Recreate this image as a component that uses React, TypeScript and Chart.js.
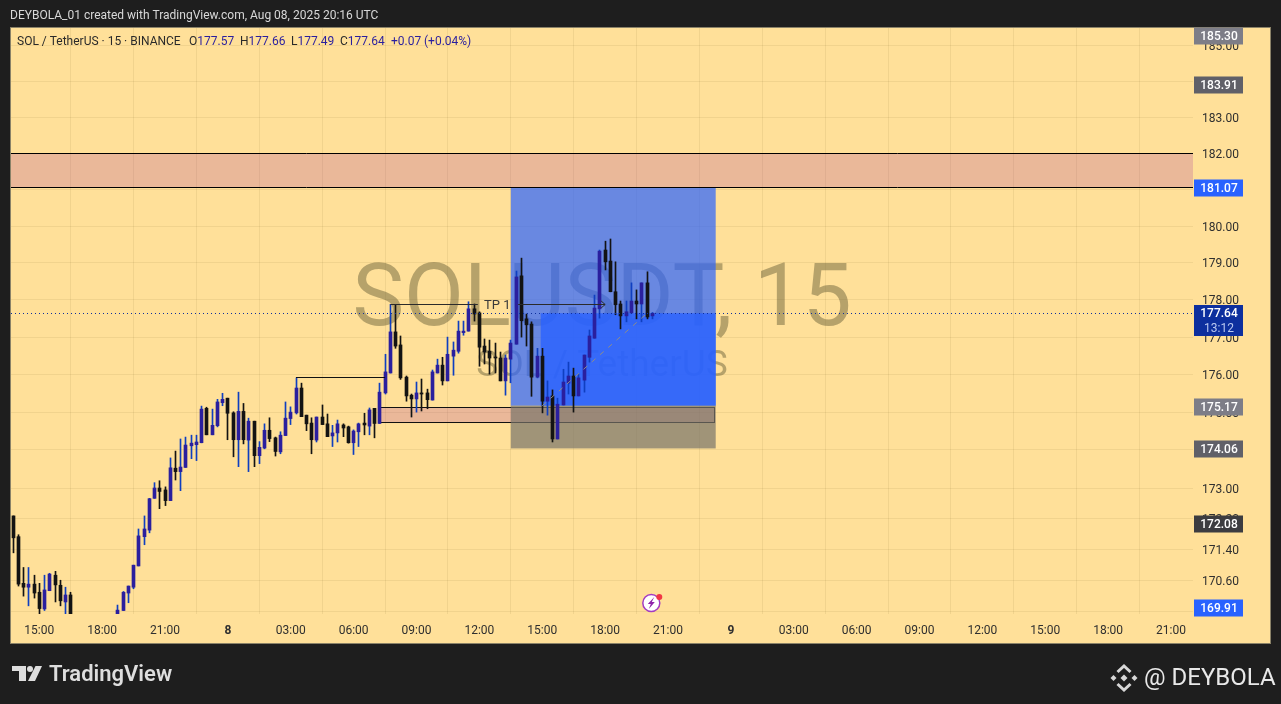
import React, { useEffect, useRef } from "react";
import { Chart, registerables } from "chart.js";

Chart.register(...registerables);

const opens = [172.27,171.73,170.52,170.42,170.50,170.29,169.86,170.33,170.73,170.47,
170.04,170.22,169.40,169.15,168.95,169.10,168.90,168.75,168.95,169.15,
169.35,169.82,170.27,170.42,170.97,171.73,171.90,172.73,173.00,172.95,
172.67,173.52,173.43,173.54,174.11,174.14,174.19,175.10,174.40,174.64,
175.25,175.37,174.98,174.27,175.02,174.26,174.76,173.85,174.05,174.52,
174.32,173.95,174.38,174.83,174.98,175.64,174.92,174.71,174.26,174.87,
174.69,174.37,174.45,174.66,174.61,174.19,174.48,174.71,174.63,175.10,
174.70,175.51,176.04,177.14,176.79,175.93,175.45,175.35,175.51,175.51,
175.32,176.04,176.25,175.83,176.49,176.62,177.12,177.16,177.76,177.65,
176.76,176.62,176.46,176.44,175.83,176.41,176.81,178.65,177.49,177.35,
175.93,176.49,175.29,175.43,174.29,175.19,175.77,175.96,175.43,175.85,
176.46,176.97,177.76,179.35,179.05,178.22,177.89,177.57,177.65,177.97,
177.89,178.46,177.57];
const closes = [171.70,170.50,170.42,170.50,170.27,169.87,170.35,170.76,170.48,170.07,
170.22,169.40,169.15,168.95,169.10,168.90,168.75,168.95,169.15,169.35,
169.83,170.29,170.45,170.99,171.75,171.93,172.72,173.00,172.91,172.67,
173.53,173.43,173.55,174.13,174.18,174.21,175.08,174.40,174.65,175.27,
175.34,174.97,174.27,175.02,174.27,174.76,173.85,174.07,174.52,174.30,
173.96,174.39,174.84,175.00,175.64,174.88,174.69,174.27,174.87,174.67,
174.35,174.45,174.69,174.58,174.19,174.50,174.69,174.66,175.06,174.70,
175.53,176.07,177.14,176.76,175.91,175.43,175.35,175.51,175.48,175.33,
176.07,176.25,175.83,176.54,176.65,177.16,177.16,177.76,177.62,176.73,
176.60,176.44,176.44,175.83,176.44,176.84,178.62,177.44,177.33,175.93,
176.49,175.29,175.40,174.29,175.21,175.80,175.96,175.43,175.91,176.52,
177.03,177.78,179.32,179.03,178.22,177.87,177.57,177.68,177.97,177.89,
178.46,177.54,177.64];
const highs = [172.27,171.78,170.93,170.93,170.73,170.52,170.73,170.78,170.83,170.60,
170.42,170.29,169.55,169.30,169.20,169.30,169.10,169.05,169.25,169.45,
169.96,170.31,170.45,170.99,171.93,172.27,172.73,173.14,173.19,173.03,
173.79,173.97,174.29,174.34,174.39,174.39,175.16,175.13,175.08,175.34,
175.50,175.37,175.01,175.53,175.23,174.84,174.76,174.22,174.69,174.85,
174.34,174.48,175.27,175.14,175.91,175.77,174.92,174.85,174.87,175.19,
174.95,174.65,174.79,174.69,174.63,174.53,174.71,174.97,175.11,175.10,
175.77,176.54,177.88,177.88,177.03,175.96,175.48,175.80,175.88,175.61,
176.12,176.41,176.46,177.00,176.87,177.43,177.43,177.95,177.89,177.68,
176.95,176.92,176.84,176.60,176.52,176.92,178.78,179.13,177.62,177.41,
176.70,176.70,175.83,175.59,175.37,176.14,176.33,176.17,176.01,176.52,
177.19,178.13,179.35,179.59,179.65,179.03,177.97,177.97,178.46,178.27,
178.46,178.76,177.66];
const lows = [171.31,170.45,170.19,169.94,170.14,169.71,169.82,170.33,170.04,169.94,
169.71,169.20,169.00,168.80,168.70,168.80,168.60,168.55,168.80,169.00,
169.25,169.82,170.02,170.38,170.97,171.52,171.83,172.73,172.46,172.54,
172.67,173.21,172.93,173.54,173.77,173.72,174.19,174.40,174.40,174.61,
175.17,174.27,173.82,173.56,174.16,173.43,173.56,173.64,174.03,174.22,
173.84,173.90,174.38,174.67,174.95,174.88,174.51,173.90,174.21,174.67,
174.35,174.09,174.21,174.35,174.18,173.88,174.09,174.40,174.40,174.32,
174.70,175.48,176.04,176.70,175.87,175.29,174.87,175.00,175.03,175.09,
175.32,176.04,175.72,175.83,175.98,176.57,177.05,177.16,177.43,176.22,
176.28,176.01,176.04,175.83,175.45,175.78,176.81,177.00,176.76,175.42,
175.91,174.98,174.92,174.21,174.29,175.19,175.48,175.00,175.43,175.53,
176.33,176.97,177.51,178.81,178.22,177.60,177.22,177.41,177.65,177.49,
177.41,177.49,177.49];

const timeLabels = ["15:00","18:00","21:00","8","03:00","06:00","09:00","12:00","15:00","18:00","21:00","9","03:00","06:00","09:00","12:00","15:00","18:00","21:00"];
const timeTickIndex = [5,17,29,41,53,65,77,89,101,113,125,137,149,161,173,185,197,209,221];
const priceTicks = [185,184,183,182,181,180,179,178,177,176,175,174,173,172.2,171.4,170.6,169.8];

const xMin = -0.4;
const xMax = 225.2;
const yMin = 169.73;
const yMax = 185.484;

const lastPrice = 177.64;
const bandPrices = [182.0, 181.07];
const positionX = [95, 134.1];
const positionSplitX = 100.7;
const positionPrices = [181.07, 177.64, 175.17, 174.04];
const boxX = [70.2, 134];
const boxPrices = [175.11, 174.71];
const structureLine = [{ x: 54, y: 175.91 }, { x: 71, y: 175.91 }];
const tpLineLeft = [{ x: 72, y: 177.88 }, { x: 88.7, y: 177.88 }];
const tpLineRight = [{ x: 96.4, y: 177.88 }, { x: 113, y: 177.88 }];
const tpLabelAt = { x: 89.9, y: 177.88 };
const trendLine = [{ x: 101, y: 175.17 }, { x: 121, y: 177.64 }];
const lastPriceLine = [{ x: xMin, y: lastPrice }, { x: xMax, y: lastPrice }];
const boltAt = { x: 122, y: 170.0 };

const tagValues = [185.30, 183.91, 181.07, 175.17, 174.06, 172.08, 169.91];
const tagColors = ["#7d7d87", "#606068", "#2962ff", "#7d7d87", "#606068", "#3c3c40", "#2962ff"];

const headerText = "DEYBOLA_01 created with TradingView.com, Aug 08, 2025 20:16 UTC";
const legendTitle = "SOL / TetherUS · 15 · BINANCE";
const legendOHLC = [
  { key: "O", val: "177.57", at: 189 },
  { key: "H", val: "177.66", at: 240 },
  { key: "L", val: "177.49", at: 291 },
  { key: "C", val: "177.64", at: 340 },
];
const legendChange = "+0.07";
const legendPercent = "(+0.04%)";

const UP_BODY = "#2a1f9e";
const UP_WICK = "#0f3fc0";
const DOWN = "#131313";
const FONT = "Roboto";

const indices = opens.map((_, i) => i);
const isUp = (i: number) => closes[i] >= opens[i];

function drawLogo(ctx: CanvasRenderingContext2D) {
  ctx.fillStyle = "#dedede";
  ctx.fillRect(12, 666, 14, 5);
  ctx.fillRect(19, 666, 7, 15);
  ctx.beginPath();
  ctx.arc(30, 669, 3, 0, Math.PI * 2);
  ctx.fill();
  ctx.beginPath();
  ctx.moveTo(35.5, 666);
  ctx.lineTo(42, 666);
  ctx.lineTo(35, 681);
  ctx.lineTo(28, 681);
  ctx.closePath();
  ctx.fill();
  ctx.font = `600 22px ${FONT}`;
  ctx.textAlign = "left";
  ctx.textBaseline = "middle";
  ctx.fillText("TradingView", 49, 675);
}

function diamond(ctx: CanvasRenderingContext2D, cx: number, cy: number, r: number) {
  ctx.beginPath();
  ctx.moveTo(cx, cy - r);
  ctx.lineTo(cx + r, cy);
  ctx.lineTo(cx, cy + r);
  ctx.lineTo(cx - r, cy);
  ctx.closePath();
  ctx.fill();
}

function drawBrand(ctx: CanvasRenderingContext2D) {
  const cx = 1124;
  const cy = 678;
  ctx.fillStyle = "#d8d8d8";
  ctx.strokeStyle = "#d8d8d8";
  diamond(ctx, cx, cy, 3.5);
  diamond(ctx, cx - 10.5, cy, 3);
  diamond(ctx, cx + 10.5, cy, 3);
  ctx.lineWidth = 3;
  ctx.beginPath();
  ctx.moveTo(cx - 6.5, cy - 6);
  ctx.lineTo(cx, cy - 12);
  ctx.lineTo(cx + 6.5, cy - 6);
  ctx.stroke();
  ctx.beginPath();
  ctx.moveTo(cx - 6.5, cy + 6);
  ctx.lineTo(cx, cy + 12);
  ctx.lineTo(cx + 6.5, cy + 6);
  ctx.stroke();
  ctx.font = `400 24px ${FONT}`;
  ctx.fillStyle = "#e8e8e8";
  ctx.textAlign = "left";
  ctx.textBaseline = "middle";
  ctx.fillText("@ DEYBOLA", 1144, 679);
}

const decorPlugin = {
  id: "decor",
  afterDatasetsUpdate(chart: any) {
    chart.data.datasets.forEach((d: any, i: number) => {
      const els = chart.getDatasetMeta(i).data;
      if (d.type === "line") {
        if (d.label === "Trend") return;
        els.forEach((el: any) => {
          el.y = Math.floor(el.y) + 0.5;
        });
        return;
      }
      els.forEach((el: any) => {
        el.x = Math.floor(el.x) + 0.5;
      });
    });
  },
  beforeDraw(chart: any) {
    const { ctx, width, height, scales } = chart;
    ctx.save();
    ctx.fillStyle = "#1e1e1e";
    ctx.fillRect(0, 0, width, height);
    ctx.fillStyle = "#ffe099";
    ctx.fillRect(10, 27, 1261, 616);
    ctx.strokeStyle = "#8a8268";
    ctx.lineWidth = 1;
    ctx.strokeRect(10.5, 27.5, 1260, 616);
    ctx.font = `400 12px ${FONT}`;
    ctx.fillStyle = "#d8d8d8";
    ctx.textAlign = "left";
    ctx.textBaseline = "middle";
    ctx.fillText(headerText, 10, 16);
    drawLogo(ctx);
    drawBrand(ctx);
    ctx.restore();
    // nudge the price-axis labels to sit level with their grid lines
    if (!scales.y.$nudged) {
      scales.y.getLabelItems().forEach((item: any) => {
        item.options.translation = [item.options.translation[0], item.options.translation[1] + 1.5];
      });
      scales.y.$nudged = true;
    }
  },
  beforeDatasetsDraw(chart: any) {
    const { ctx, scales, chartArea } = chart;
    const X = (v: number) => scales.x.getPixelForValue(v);
    const Y = (v: number) => scales.y.getPixelForValue(v);
    ctx.save();
    ctx.beginPath();
    ctx.rect(chartArea.left, chartArea.top, chartArea.right - chartArea.left, chartArea.bottom - chartArea.top);
    ctx.clip();
    // watermark
    ctx.fillStyle = "rgba(110,100,60,0.5)";
    ctx.textAlign = "center";
    ctx.textBaseline = "alphabetic";
    ctx.font = `400 87px ${FONT}`;
    ctx.fillText("SOLUSDT, 15", 602, 325);
    ctx.font = `400 37px ${FONT}`;
    ctx.fillText("SOL / TetherUS", 602, 376);
    // resistance band
    ctx.fillStyle = "rgba(171,64,157,0.25)";
    const bt = Y(bandPrices[0]);
    const bb = Y(bandPrices[1]);
    ctx.fillRect(chartArea.left, bt, chartArea.right - chartArea.left, bb - bt);
    // demand box, under the position zones
    const bx0 = X(boxX[0]);
    const bx1 = X(boxX[1]);
    const by0 = Y(boxPrices[0]);
    const by1 = Y(boxPrices[1]);
    ctx.fillStyle = "rgba(171,64,157,0.25)";
    ctx.fillRect(bx0, by0, bx1 - bx0, by1 - by0);
    ctx.strokeStyle = "#111";
    ctx.lineWidth = 1;
    ctx.strokeRect(Math.floor(bx0) + 0.5, Math.floor(by0) + 0.5, Math.round(bx1 - bx0), Math.round(by1 - by0));
    // position zones
    const px0 = X(positionX[0]);
    const px1 = X(positionX[1]);
    const ps = X(positionSplitX);
    const [p0, p1, p2, p3] = positionPrices.map(Y);
    ctx.fillStyle = "rgba(41,98,255,0.7)";
    ctx.fillRect(px0, p0, px1 - px0, p2 - p0);
    ctx.fillStyle = "rgba(41,98,255,0.8)";
    ctx.fillRect(ps, p1, px1 - ps, p2 - p1);
    ctx.fillStyle = "rgba(120,115,105,0.7)";
    ctx.fillRect(px0, p2, px1 - px0, p3 - p2);
    // band lines
    ctx.beginPath();
    ctx.moveTo(chartArea.left, Math.round(bt) + 0.5);
    ctx.lineTo(chartArea.right, Math.round(bt) + 0.5);
    ctx.moveTo(chartArea.left, Math.round(bb) + 0.5);
    ctx.lineTo(chartArea.right, Math.round(bb) + 0.5);
    ctx.strokeStyle = "#000";
    ctx.stroke();
    ctx.restore();
  },
  afterDraw(chart: any) {
    const { ctx, scales } = chart;
    const X = (v: number) => scales.x.getPixelForValue(v);
    const Y = (v: number) => scales.y.getPixelForValue(v);
    ctx.save();
    // TP label and arrow
    ctx.fillStyle = "#3a3a3a";
    ctx.font = `400 13px ${FONT}`;
    ctx.textAlign = "left";
    ctx.textBaseline = "middle";
    ctx.fillText("TP 1", X(tpLabelAt.x), Y(tpLabelAt.y) + 1);
    const ax = X(tpLineRight[1].x);
    const ay = Math.floor(Y(tpLineRight[1].y)) + 0.5;
    ctx.strokeStyle = "#2b2b2b";
    ctx.lineWidth = 1;
    ctx.beginPath();
    ctx.moveTo(ax - 4, ay - 3.5);
    ctx.lineTo(ax, ay);
    ctx.lineTo(ax - 4, ay + 3.5);
    ctx.stroke();
    // legend
    ctx.font = `400 12px ${FONT}`;
    ctx.fillStyle = "#2a2a2a";
    ctx.fillText(legendTitle, 17, 42);
    legendOHLC.forEach((item) => {
      ctx.fillStyle = "#2a2a2a";
      ctx.fillText(item.key, item.at, 42);
      const w = ctx.measureText(item.key).width;
      ctx.fillStyle = "#2a1f9e";
      ctx.fillText(item.val, item.at + w, 42);
    });
    ctx.fillStyle = "#2a1f9e";
    ctx.fillText(legendChange, 391, 42);
    ctx.fillText(legendPercent, 424, 42);
    // price tags
    ctx.textAlign = "center";
    tagValues.forEach((v, i) => {
      const y = Math.max(36, Math.round(Y(v)) + 1);
      ctx.fillStyle = tagColors[i];
      ctx.fillRect(1194, y - 8.5, 49, 17);
      ctx.fillStyle = "#ffffff";
      ctx.font = `500 12px ${FONT}`;
      ctx.fillText(v.toFixed(2), 1219, y + 1);
    });
    const ly = Math.round(Y(lastPrice));
    ctx.fillStyle = "#0d2f9e";
    ctx.fillRect(1194, ly - 8, 49, 31);
    ctx.fillStyle = "#ffffff";
    ctx.font = `500 12px ${FONT}`;
    ctx.fillText(lastPrice.toFixed(2), 1219, ly + 1);
    ctx.fillStyle = "#b9c8f0";
    ctx.font = `400 12px ${FONT}`;
    ctx.fillText("13:12", 1219, ly + 16);
    // bolt marker
    const bx = X(boltAt.x) - 1;
    const by = 603;
    ctx.fillStyle = "#ffffff";
    ctx.strokeStyle = "#a33bc2";
    ctx.lineWidth = 1.5;
    ctx.beginPath();
    ctx.arc(bx, by, 8.5, 0, Math.PI * 2);
    ctx.fill();
    ctx.stroke();
    ctx.fillStyle = "#8e24aa";
    ctx.beginPath();
    ctx.moveTo(bx + 3, by - 6);
    ctx.lineTo(bx - 3.5, by + 1);
    ctx.lineTo(bx - 0.5, by + 1);
    ctx.lineTo(bx - 2.5, by + 6);
    ctx.lineTo(bx + 3.5, by - 1);
    ctx.lineTo(bx + 0.5, by - 1);
    ctx.closePath();
    ctx.fill();
    ctx.fillStyle = "#f23645";
    ctx.beginPath();
    ctx.arc(bx + 8, by - 6, 3, 0, Math.PI * 2);
    ctx.fill();
    ctx.restore();
  },
};

export default function App() {
  const ref = useRef<HTMLCanvasElement | null>(null);
  useEffect(() => {
    if (!ref.current) return;
    document.body.style.margin = "0";
    document.body.style.background = "#1e1e1e";
    const lineBase = { type: "line", pointRadius: 0, pointHoverRadius: 0, borderWidth: 1, fill: false, tension: 0 };
    const chart = new Chart(ref.current, {
      type: "bar",
      data: {
        datasets: [
          {
            ...lineBase,
            label: "Last price",
            data: lastPriceLine,
            borderColor: "#0d2f9e",
            borderDash: [1, 3],
            order: 0,
          },
          {
            ...lineBase,
            label: "Structure",
            data: structureLine,
            borderColor: "#111111",
            order: 0,
          },
          {
            ...lineBase,
            label: "TP left",
            data: tpLineLeft,
            borderColor: "#2b2b2b",
            order: 0,
          },
          {
            ...lineBase,
            label: "TP right",
            data: tpLineRight,
            borderColor: "#2b2b2b",
            order: 0,
          },
          {
            ...lineBase,
            label: "Trend",
            data: trendLine,
            borderColor: "#8c8c8c",
            borderDash: [5, 6],
            order: 0,
          },
          {
            label: "Bodies",
            data: indices.map((i) => ({ x: i, y: [opens[i], closes[i]] })),
            backgroundColor: indices.map((i) => (isUp(i) ? UP_BODY : DOWN)),
            barThickness: 3,
            minBarLength: 1,
            grouped: false,
            order: 1,
          },
          {
            label: "Wicks",
            data: indices.map((i) => ({ x: i, y: [lows[i], highs[i]] })),
            backgroundColor: indices.map((i) => (isUp(i) ? UP_WICK : DOWN)),
            barThickness: 1,
            grouped: false,
            order: 2,
          },
        ] as any,
      },
      options: {
        animation: false,
        responsive: false,
        devicePixelRatio: 1,
        events: [],
        layout: { padding: { left: 11, top: 28, right: 0, bottom: 0 } },
        plugins: { legend: { display: false }, tooltip: { enabled: false }, title: { display: false } },
        scales: {
          x: {
            type: "linear",
            min: xMin,
            max: xMax,
            offset: false,
            border: { display: false },
            grid: { color: "rgba(150,125,60,0.13)", drawTicks: false },
            afterBuildTicks: (s: any) => {
              s.ticks = timeTickIndex.map((v) => ({ value: v }));
            },
            afterFit: (s: any) => {
              s.height = 90;
            },
            ticks: {
              autoSkip: false,
              maxRotation: 0,
              padding: 10,
              color: "#2f2f2f",
              font: (c: any) => ({
                family: FONT,
                size: 12,
                weight: timeLabels[c.index] && timeLabels[c.index].length === 1 ? "700" : "400",
              }),
              callback: (_v: any, i: number) => timeLabels[i],
            },
          },
          y: {
            type: "logarithmic",
            position: "right",
            min: yMin,
            max: yMax,
            border: { display: false },
            grid: { color: "rgba(150,125,60,0.13)", drawTicks: false },
            afterBuildTicks: (s: any) => {
              s.ticks = priceTicks.map((v) => ({ value: v }));
            },
            afterFit: (s: any) => {
              s.width = 88;
            },
            ticks: {
              padding: 9,
              color: "#2f2f2f",
              font: { family: FONT, size: 12 },
              callback: (v: any) => Number(v).toFixed(2),
            },
          },
        },
      } as any,
      plugins: [decorPlugin as any],
    });
    return () => chart.destroy();
  }, []);
  return (
    <div style={{ position: "fixed", left: 0, top: 0, width: 1281, height: 704 }}>
      <canvas ref={ref} width={1281} height={704} style={{ display: "block", width: 1281, height: 704 }} />
    </div>
  );
}
